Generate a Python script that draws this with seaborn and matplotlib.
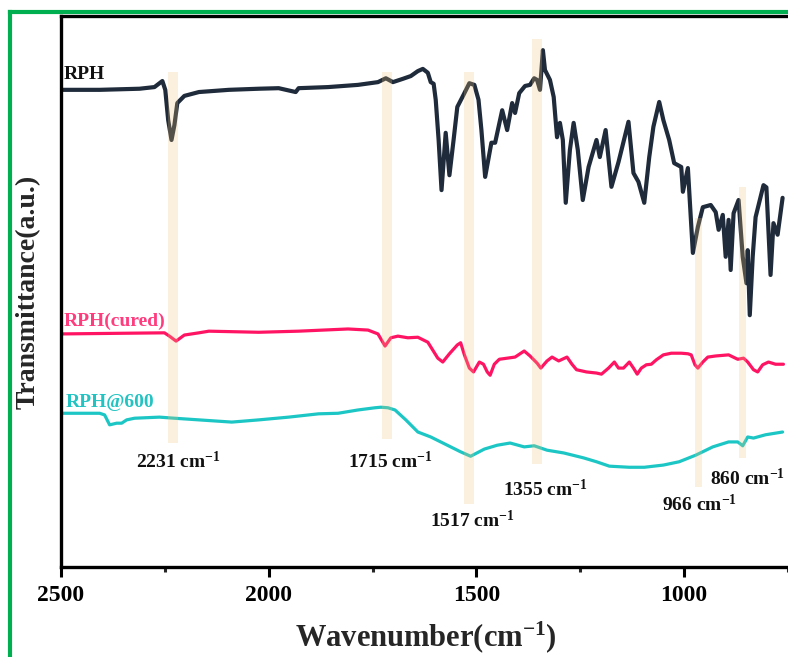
import numpy as np
import pandas as pd
import matplotlib
matplotlib.use("Agg")
import matplotlib.pyplot as plt
import seaborn as sns
from matplotlib.lines import Line2D

# ---------------- data ----------------
rph_wn = [2500, 2407, 2311, 2275, 2256, 2249, 2242, 2234, 2227, 2220, 2203, 2168, 2096, 2024,
          1976, 1935, 1928, 1857, 1785, 1737, 1718, 1701, 1677, 1658, 1641, 1629, 1617, 1610,
          1603, 1598, 1591, 1584, 1574, 1565, 1555, 1546, 1531, 1517, 1505, 1495, 1488, 1479,
          1464, 1455, 1438, 1426, 1414, 1407, 1397, 1383, 1371, 1361, 1354, 1347, 1340, 1335,
          1323, 1314, 1306, 1299, 1292, 1285, 1275, 1266, 1256, 1244, 1230, 1211, 1203, 1189,
          1175, 1158, 1134, 1122, 1110, 1096, 1084, 1074, 1060, 1050, 1036, 1024, 1007, 1003,
          991, 979, 967, 955, 936, 924, 917, 907, 900, 893, 888, 881, 869, 859, 850, 847, 842,
          835, 828, 809, 802, 792, 785, 775, 763]
rph_t = [86.6, 86.6, 86.8, 87.1, 88.2, 86.6, 81.1, 77.5, 80.2, 84.2, 85.5, 86.2, 86.6, 86.8,
         86.9, 86.2, 86.9, 87.1, 87.5, 88.0, 88.7, 88.0, 88.6, 89.1, 90.0, 90.4, 89.7, 88.0,
         87.7, 84.8, 77.5, 68.4, 78.8, 71.1, 77.5, 83.5, 85.7, 87.8, 87.5, 84.8, 79.3, 70.8,
         77.0, 77.0, 82.9, 79.3, 84.2, 82.4, 86.0, 87.3, 87.5, 88.7, 88.4, 86.6, 93.8, 90.2,
         88.4, 85.3, 78.0, 80.6, 77.5, 66.1, 75.7, 80.6, 75.7, 66.6, 72.6, 77.5, 74.4, 79.3,
         69.0, 73.5, 80.8, 71.5, 69.9, 66.1, 74.4, 79.9, 84.4, 81.1, 77.5, 73.3, 72.6, 68.1,
         72.4, 57.0, 61.7, 65.3, 65.7, 64.4, 61.2, 63.9, 56.3, 63.0, 53.9, 64.2, 66.6, 56.3,
         51.5, 57.5, 45.7, 56.3, 63.5, 69.3, 68.9, 53.0, 62.4, 60.3, 67.0]

cured_wn = [2500, 2251, 2239, 2223, 2203, 2168, 2144, 2024, 1928, 1809, 1761, 1737, 1720, 1706,
            1689, 1665, 1641, 1617, 1593, 1581, 1565, 1546, 1538, 1529, 1517, 1507, 1493, 1483,
            1474, 1467, 1457, 1445, 1426, 1407, 1385, 1371, 1354, 1345, 1330, 1318, 1302, 1282,
            1270, 1259, 1235, 1211, 1199, 1182, 1168, 1158, 1146, 1132, 1122, 1113, 1103, 1091,
            1079, 1067, 1050, 1031, 1007, 991, 983, 974, 967, 955, 943, 924, 893, 871, 857, 847,
            833, 823, 811, 797, 780, 761]
cured_t = [42.3, 42.5, 41.9, 41.0, 42.1, 42.5, 42.8, 42.6, 42.8, 43.2, 43.0, 42.3, 40.1, 41.6,
           41.9, 41.6, 41.7, 40.8, 37.9, 37.2, 38.7, 40.3, 40.7, 38.5, 36.1, 35.4, 37.2, 36.8,
           35.4, 34.8, 36.8, 37.7, 37.9, 38.1, 39.2, 38.3, 37.0, 36.1, 37.4, 38.1, 37.4, 38.1,
           36.8, 35.8, 35.4, 35.2, 35.0, 36.1, 37.2, 36.1, 36.1, 37.2, 36.1, 35.0, 36.1, 36.7,
           36.8, 37.6, 38.5, 38.8, 38.8, 38.7, 38.5, 36.7, 36.1, 37.2, 38.1, 38.3, 38.5, 37.7,
           37.9, 37.2, 35.8, 35.4, 36.7, 37.2, 36.8, 36.8]

c600_wn = [2500, 2407, 2395, 2383, 2366, 2354, 2342, 2323, 2263, 2227, 2168, 2089, 2024, 1952,
           1880, 1833, 1785, 1744, 1730, 1713, 1696, 1670, 1641, 1610, 1570, 1538, 1514, 1481,
           1450, 1419, 1385, 1361, 1330, 1290, 1242, 1211, 1180, 1132, 1096, 1050, 1012, 972,
           931, 893, 871, 859, 847, 833, 804, 763]
c600_t = [27.9, 27.9, 27.6, 25.8, 26.1, 26.1, 26.7, 27.0, 27.2, 27.0, 26.7, 26.3, 26.7, 27.2,
          27.8, 27.9, 28.5, 28.9, 29.0, 28.9, 28.5, 26.7, 24.5, 23.6, 22.1, 20.9, 20.1, 21.4,
          22.1, 22.5, 21.8, 22.0, 21.2, 20.7, 19.8, 19.1, 18.3, 18.1, 18.1, 18.5, 19.1, 20.3,
          21.8, 22.7, 22.7, 22.0, 23.6, 23.4, 24.0, 24.5]

series_names = ["RPH", "RPH(cured)", "RPH@600"]
series_colors = ["#1f2b3a", "#ff1464", "#1cc6c4"]
label_colors = ["#111111", "#ff3c7d", "#22c3c3"]
label_x = [2493, 2493, 2488]
label_y = [89.3, 44.6, 29.9]

band_centers = [2231, 1715, 1517, 1355, 966, 860]
band_widths = [24, 24, 24, 24, 17, 17]
band_bottom = [22.5, 23.2, 11.4, 18.7, 14.5, 19.8]
band_top = [89.8, 89.8, 89.8, 95.8, 63.3, 69.0]

ann_text = ["2231 cm$^{-1}$", "1715 cm$^{-1}$", "1517 cm$^{-1}$",
            "1355 cm$^{-1}$", "966 cm$^{-1}$", "860 cm$^{-1}$"]
ann_x = [2218, 1708, 1510, 1333, 964, 847]
ann_y = [19.1, 19.1, 8.5, 14.0, 11.4, 16.0]

xticks = [2500, 2000, 1500, 1000]
minor_xticks = [2250, 1750, 1250, 750]

# ---------------- style ----------------
sns.set_theme(style="white")
plt.rcParams["font.family"] = ["Liberation Serif", "DejaVu Serif"]
plt.rcParams["font.weight"] = "bold"
plt.rcParams["mathtext.default"] = "regular"
plt.rcParams["axes.unicode_minus"] = True

W, H = 788, 657
fig = plt.figure(figsize=(W / 100, H / 100), dpi=100)
ax = fig.add_axes([61 / W, (H - 567) / H, (W - 61) / W, 551 / H])

frames = []
for name, wn, t in zip(series_names, [rph_wn, cured_wn, c600_wn], [rph_t, cured_t, c600_t]):
    frames.append(pd.DataFrame({"wn": wn, "T": t, "sample": name}))
df = pd.concat(frames, ignore_index=True)

lws = [3.0, 2.3, 2.3]
for name, col, lw in zip(series_names, series_colors, lws):
    sub = df[df["sample"] == name]
    sns.lineplot(data=sub, x="wn", y="T", ax=ax, color=col, linewidth=lw,
                 estimator=None, sort=True, zorder=2, legend=False)

# highlight bands
heights = [t - b for t, b in zip(band_top, band_bottom)]
ax.bar(band_centers, heights, bottom=band_bottom, width=band_widths,
       color="#f0c27a", alpha=0.25, linewidth=0, zorder=3)

for txt, x, y in zip(ann_text, ann_x, ann_y):
    ax.text(x, y, txt, ha="center", va="center", fontsize=14, fontweight="bold",
            color="#111111", zorder=4)

for name, x, y, c in zip(series_names, label_x, label_y, label_colors):
    ax.text(x, y, name, ha="left", va="center", fontsize=14, fontweight="bold",
            color=c, zorder=4)

ax.set_xlim(2500, 761)
ax.set_ylim(0, 100)
ax.set_xticks(xticks)
ax.set_xticks(minor_xticks, minor=True)
ax.set_xticklabels([str(v) for v in xticks], fontsize=17, fontweight="bold")
ax.set_yticks([])
ax.tick_params(axis="x", which="major", direction="out", length=7, width=2.2,
               pad=6, bottom=True, colors="black")
ax.tick_params(axis="x", which="minor", direction="out", length=3.5, width=2.2,
               bottom=True)

ax.set_xlabel("Wavenumber(cm$^{-1}$)", fontsize=22, fontweight="bold", va="center")
ax.xaxis.set_label_coords(0.502, (567 - 637) / 551)
ax.set_ylabel("Transmittance(a.u.)", fontsize=20, fontweight="bold", va="center")
ax.yaxis.set_label_coords((28 - 61) / 727, 0.5)

for s in ["left", "bottom", "top"]:
    ax.spines[s].set_visible(True)
    ax.spines[s].set_color("black")
    ax.spines[s].set_linewidth(2.4)
ax.spines["right"].set_visible(False)

# green outer frame
green = "#00b050"
fig.add_artist(Line2D([10 / W, 10 / W], [0, 1 - 12 / H], transform=fig.transFigure,
                      color=green, linewidth=3, solid_capstyle="projecting"))
fig.add_artist(Line2D([10 / W, 1], [1 - 12 / H, 1 - 12 / H], transform=fig.transFigure,
                      color=green, linewidth=3, solid_capstyle="projecting"))

fig.savefig("out.png", dpi=100)
